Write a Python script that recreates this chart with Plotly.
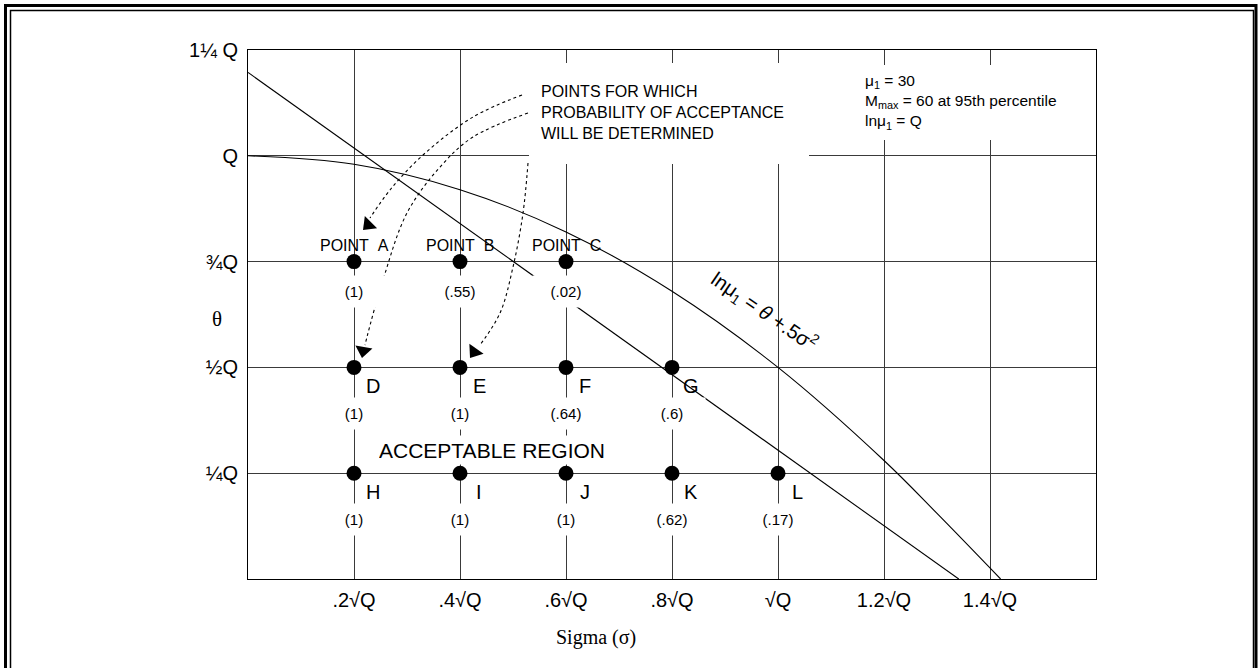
import plotly.graph_objects as go

# ---------------- data ----------------
sigma_ticks = [0.2, 0.4, 0.6, 0.8, 1.0, 1.2, 1.4]
sigma_ticktext = [".2\u221aQ", ".4\u221aQ", ".6\u221aQ", ".8\u221aQ", "\u221aQ", "1.2\u221aQ", "1.4\u221aQ"]
theta_ticks = [0.25, 0.5, 0.75, 1.0, 1.25]
theta_ticktext = ["\u00bcQ", "\u00bdQ", "\u00beQ", "Q", "1\u00bc Q"]

point_names = ["A", "B", "C", "D", "E", "F", "G", "H", "I", "J", "K", "L"]
point_sigma = [0.2, 0.4, 0.6, 0.2, 0.4, 0.6, 0.8, 0.2, 0.4, 0.6, 0.8, 1.0]
point_theta = [0.75, 0.75, 0.75, 0.5, 0.5, 0.5, 0.5, 0.25, 0.25, 0.25, 0.25, 0.25]
point_prob = ["(1)", "(.55)", "(.02)", "(1)", "(1)", "(.64)", "(.6)",
              "(1)", "(1)", "(1)", "(.62)", "(.17)"]

# ln mu1 = theta + .5 sigma^2 curve
curve_sigma = [0.0, 0.2, 0.4, 0.6, 0.8, 1.0, 1.2, 1.3, 1.42]
curve_theta = [1.0, 0.98, 0.92, 0.82, 0.68, 0.5, 0.28, 0.155, 0.0]

# Mmax = 60 at 95th percentile line
line_sigma = [0.0, 1.341]
line_theta = [1.197, 0.0]

# dotted pointer arrows (callout paths)
arrow1_sigma = [0.517, 0.4245, 0.3302, 0.2679, 0.2302]
arrow1_theta = [1.1437, 1.0917, 1.0019, 0.9192, 0.853]
arrow2_sigma = [0.5283, 0.4245, 0.3623, 0.300, 0.2547, 0.2264, 0.2208]
arrow2_theta = [1.1011, 1.0444, 0.9735, 0.8648, 0.7065, 0.5813, 0.5529]
arrow3_sigma = [0.5283, 0.5189, 0.500, 0.4755, 0.4377]
arrow3_theta = [0.983, 0.8648, 0.7372, 0.6285, 0.5529]
head_sigma = [0.2270, 0.2175, 0.4270]
head_theta = [0.8372, 0.5397, 0.5366]
head_angle = [45, 10, 35]

SANS = "Liberation Sans, Arial, sans-serif"
SERIF = "Liberation Serif, Times New Roman, serif"

fig = go.Figure()

fig.add_trace(go.Scatter(x=curve_sigma, y=curve_theta, mode="lines",
                         line=dict(color="black", width=1.1, shape="spline"),
                         hoverinfo="skip"))
fig.add_trace(go.Scatter(x=line_sigma, y=line_theta, mode="lines",
                         line=dict(color="black", width=1.1),
                         hoverinfo="skip"))
for xs, ys in [(arrow1_sigma, arrow1_theta), (arrow2_sigma, arrow2_theta),
               (arrow3_sigma, arrow3_theta)]:
    fig.add_trace(go.Scatter(x=xs, y=ys, mode="lines",
                             line=dict(color="black", width=1.1, dash="dot", shape="spline"),
                             hoverinfo="skip"))
fig.add_trace(go.Scatter(x=head_sigma, y=head_theta, mode="markers",
                         marker=dict(symbol="triangle-down", size=15, color="black",
                                     angle=head_angle, line=dict(width=0)),
                         hoverinfo="skip"))
fig.add_trace(go.Scatter(x=point_sigma, y=point_theta, mode="markers",
                         marker=dict(size=15, color="black"),
                         hoverinfo="skip"))

annotations = []
for name, sx, ty, pr in zip(point_names, point_sigma, point_theta, point_prob):
    if ty == 0.75:
        annotations.append(dict(x=sx, y=ty, xref="x", yref="y", text="POINT\u00a0\u00a0" + name,
                                showarrow=False, yshift=16, font=dict(family=SANS, size=16, color="black")))
        pshift = -30
    else:
        annotations.append(dict(x=sx, y=ty, xref="x", yref="y", text=name, showarrow=False,
                                xshift=19, yshift=-19, font=dict(family=SANS, size=20, color="black")))
        pshift = -46
    annotations.append(dict(x=sx, y=ty, xref="x", yref="y", text=pr, showarrow=False,
                            yshift=pshift, bgcolor="white", borderpad=5, width=56, height=21,
                            font=dict(family=SANS, size=15, color="black")))

annotations.append(dict(x=0.4606, y=0.306, xref="x", yref="y", text="ACCEPTABLE REGION",
                        showarrow=False, bgcolor="white", borderpad=5, height=18,
                        font=dict(family=SANS, size=21, color="black")))
annotations.append(dict(x=0.549, y=1.1023, xref="x", yref="y", xanchor="left", align="left",
                        text="POINTS FOR WHICH<br>PROBABILITY OF ACCEPTANCE<br>WILL BE DETERMINED",
                        showarrow=False, font=dict(family=SANS, size=16, color="black")))
annotations.append(dict(x=1.1604, y=1.126, xref="x", yref="y", xanchor="left", align="left",
                        text="\u03bc<sub>1</sub> = 30<br>M<sub>max</sub> = 60 at 95th percentile<br>ln\u03bc<sub>1</sub> = Q",
                        showarrow=False, font=dict(family=SANS, size=15.5, color="black")))
annotations.append(dict(x=0.9736, y=0.633, xref="x", yref="y", textangle=34.5,
                        text="ln\u03bc<sub>1</sub> = <i>\u03b8</i> +.5\u03c3<sup>2</sup>",
                        showarrow=False, font=dict(family=SANS, size=20, color="black")))
annotations.append(dict(x=-0.0448, y=0.614, xref="paper", yref="y", text="\u03b8",
                        showarrow=False, font=dict(family=SERIF, size=21, color="black")))
annotations.append(dict(x=0.4104, y=-0.1106, xref="paper", yref="paper", text="Sigma (\u03c3)",
                        showarrow=False, yanchor="middle",
                        font=dict(family=SERIF, size=20, color="black")))

# plot area in window pixels: x 248..1096, y 50..579
def px(xp):
    return (xp - 248) / 848.0

def py(yp):
    return (579 - yp) / 529.0

shapes = [
    # white panels behind callout text (break grid lines)
    dict(type="rect", xref="x", yref="y", x0=0.5302, x1=1.0585, y0=0.9806, y1=1.2193,
         fillcolor="white", line=dict(width=0), layer="above"),
    dict(type="rect", xref="x", yref="y", x0=1.1264, x1=1.585, y0=1.0374, y1=1.2146,
         fillcolor="white", line=dict(width=0), layer="above"),
    # double page frame
    dict(type="rect", xref="paper", yref="paper", x0=px(5.5), x1=px(1256), y0=py(720), y1=py(5.5),
         line=dict(color="black", width=3), fillcolor="rgba(0,0,0,0)", layer="above"),
    dict(type="rect", xref="paper", yref="paper", x0=px(10.5), x1=px(1253.5), y0=py(720), y1=py(10.5),
         line=dict(color="black", width=1.5), fillcolor="rgba(0,0,0,0)", layer="above"),
]

fig.update_layout(
    width=1260, height=668,
    margin=dict(l=248, r=164, t=50, b=89),
    paper_bgcolor="white", plot_bgcolor="white",
    showlegend=False,
    annotations=annotations,
    shapes=shapes,
    xaxis=dict(range=[0, 1.6], tickmode="array", tickvals=sigma_ticks, ticktext=sigma_ticktext,
               showgrid=True, gridcolor="#3a3a3a", gridwidth=1, zeroline=False,
               showline=True, linecolor="black", linewidth=1, mirror=True, ticks="",
               ticklabelstandoff=3,
               tickfont=dict(family=SANS, size=20, color="black"), fixedrange=True),
    yaxis=dict(range=[0, 1.25], tickmode="array", tickvals=theta_ticks, ticktext=theta_ticktext,
               showgrid=True, gridcolor="#3a3a3a", gridwidth=1, zeroline=False,
               showline=True, linecolor="black", linewidth=1, mirror=True, ticks="",
               ticklabelstandoff=5,
               tickfont=dict(family=SANS, size=20, color="black"), fixedrange=True),
)

fig.write_html(
    "out.html",
    config={"displayModeBar": False},
    post_script="document.body.style.margin='0';document.body.style.overflow='hidden';",
)
